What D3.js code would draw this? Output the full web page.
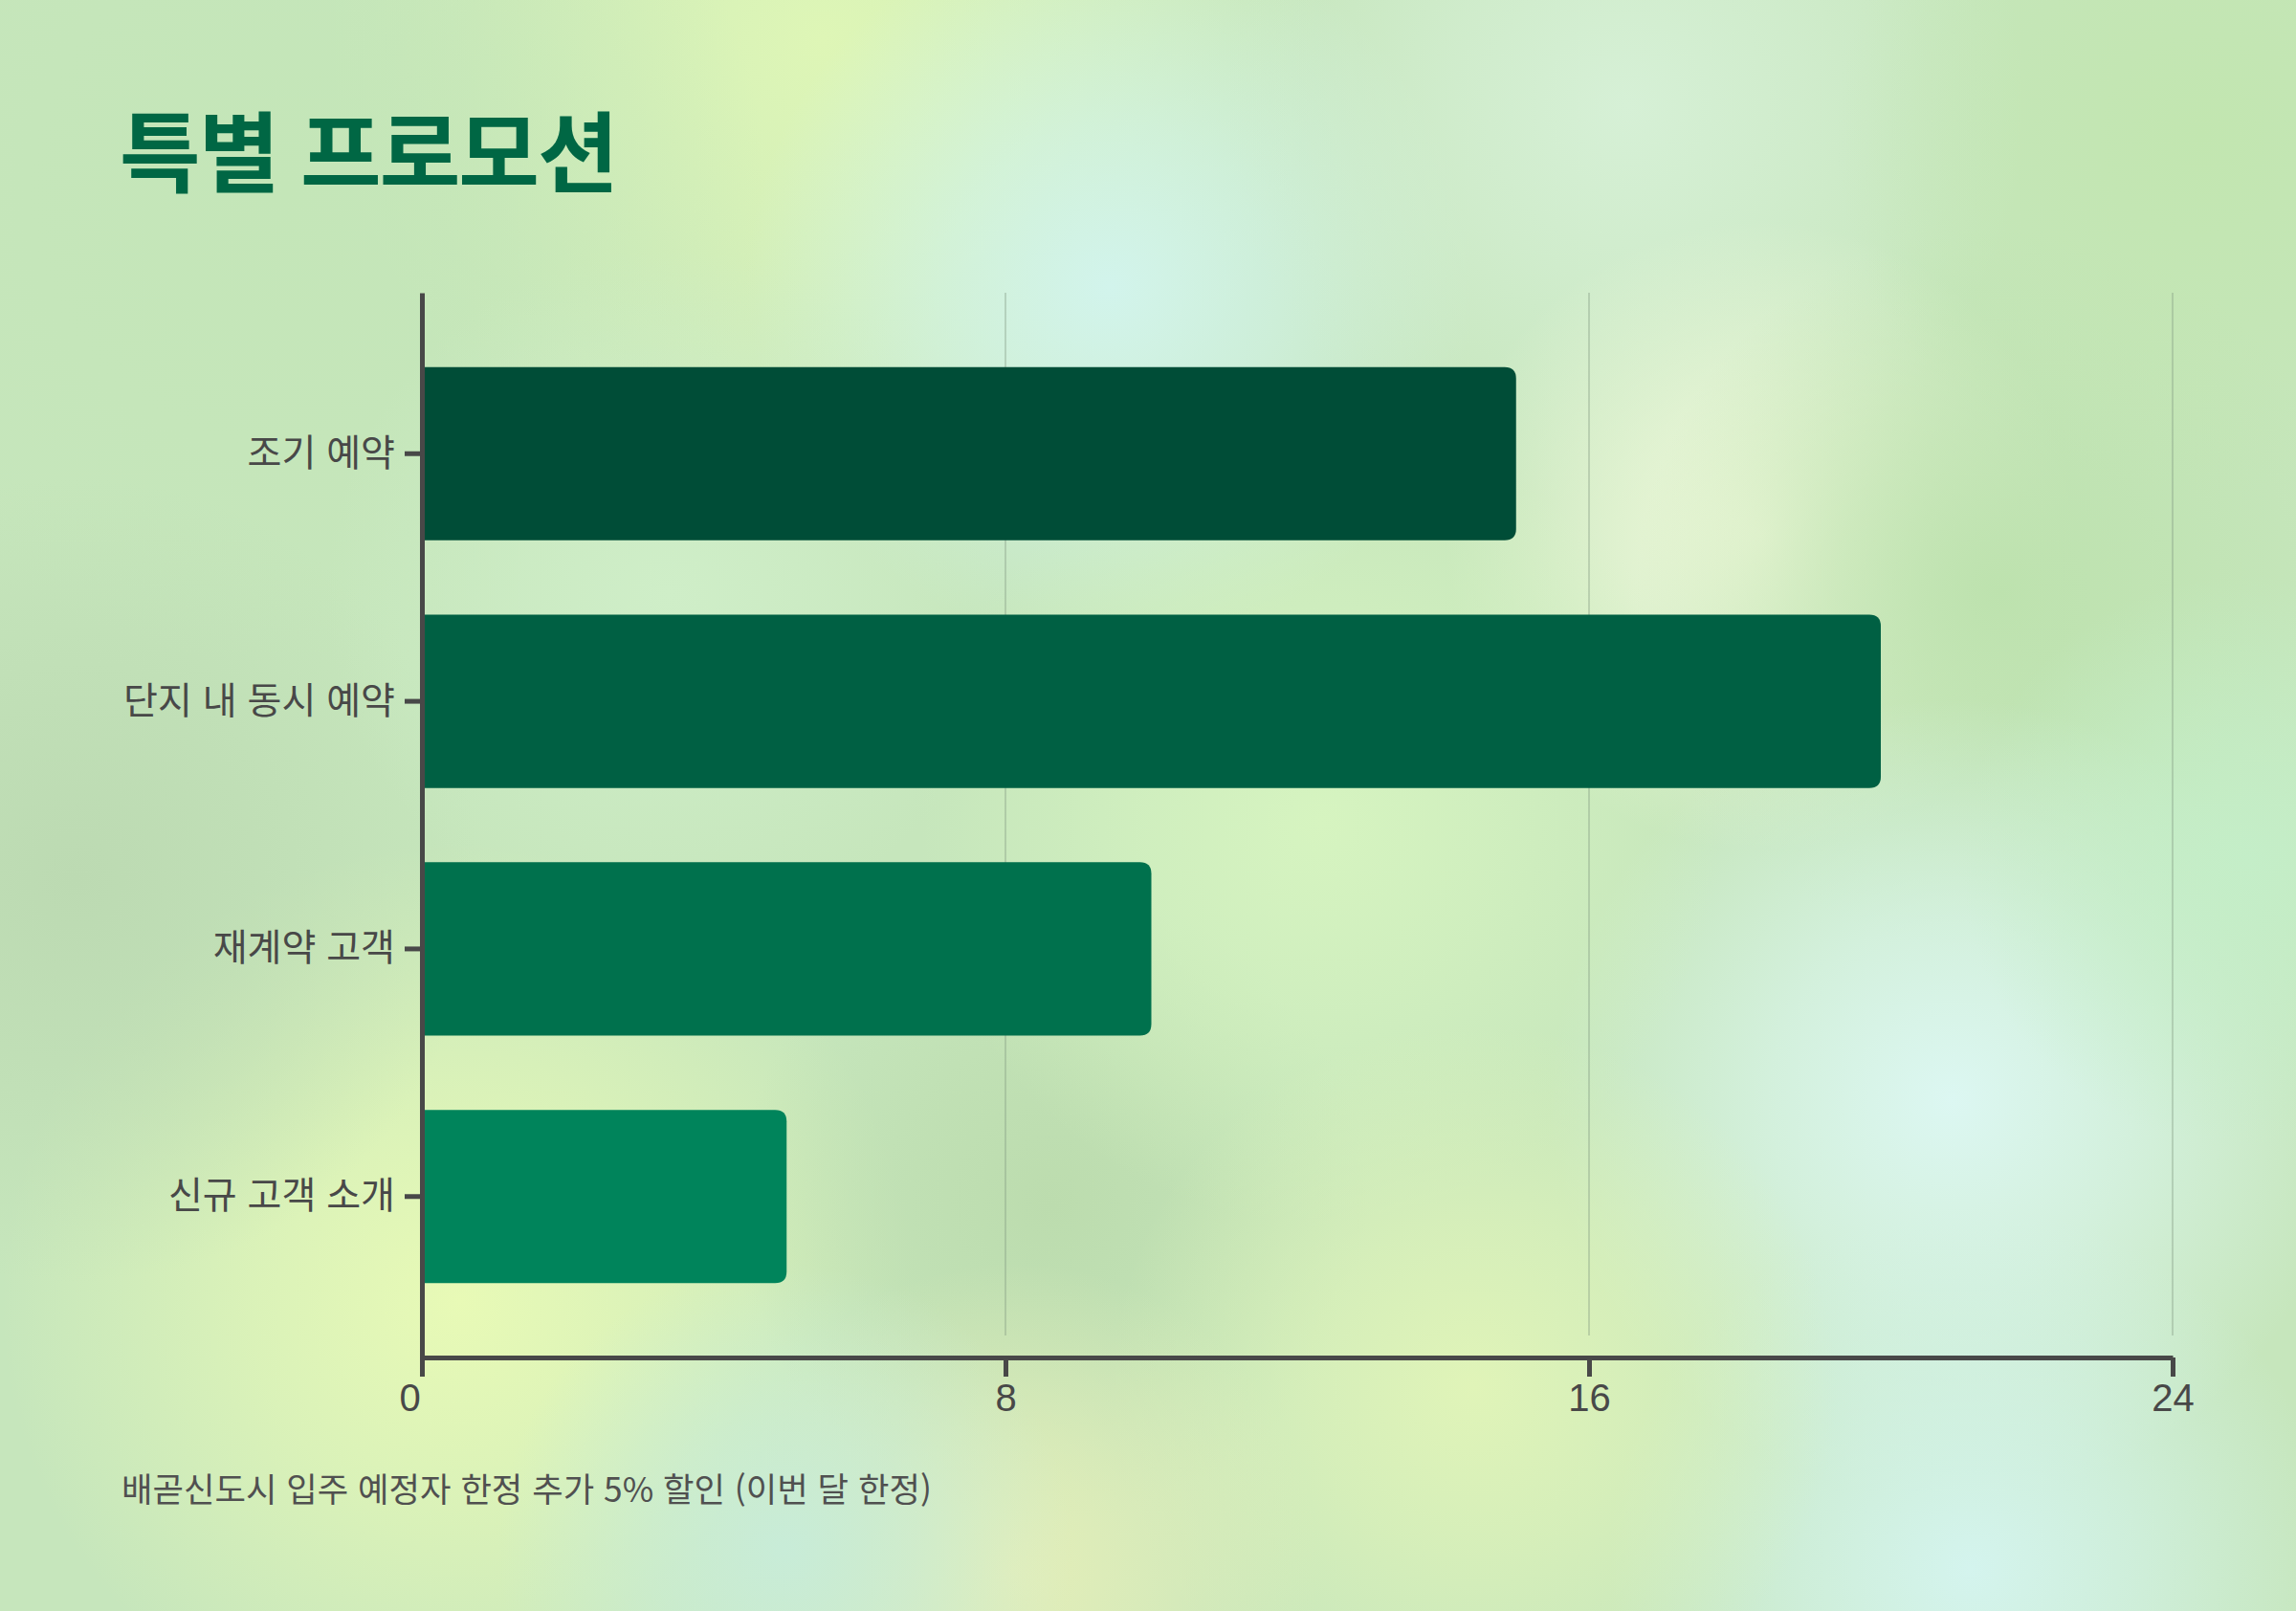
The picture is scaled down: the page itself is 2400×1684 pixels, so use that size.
<!doctype html>
<html lang="ko">
<head>
    <meta charset="utf-8" />
    <title>특별 프로모션</title>
    <style>
        html, body { margin: 0; padding: 0; background: #c6e6bc; }
        svg { display: block; }
        .kr { font-family: "Noto Sans CJK KR", "Noto Sans", sans-serif; }
        .num { font-family: "Liberation Sans", "Noto Sans", sans-serif; }
    </style>
</head>
<body>
    <svg id="chart"></svg>

    <script src="https://cdn.jsdelivr.net/npm/d3@7/dist/d3.min.js"></script>
    <script>
        // 데이터
        const categories = ["조기 예약", "단지 내 동시 예약", "재계약 고객", "신규 고객 소개"];
        const values = [15, 20, 10, 5];
        const barColors = ["#004d37", "#006043", "#00714d", "#00845b"];
        const xTicks = [0, 8, 16, 24];
        const title = "특별 프로모션";
        const footnote = "배곧신도시 입주 예정자 한정 추가 5% 할인 (이번 달 한정)";

        // background blobs: [cx, cy, r, color]
        const blobs = [
            [860, 40, 520, "#def6b6"],
            [1160, 300, 380, "#d2f4ec"],
            [1700, 110, 420, "#d6f0d6"],
            [1840, 560, 330, "#f0f9dc"],
            [2090, 620, 380, "#bde2ae"],
            [2040, 1150, 420, "#dcf7f2"],
            [2060, 1640, 380, "#d4f4ee"],
            [480, 1360, 480, "#e8fab6"],
            [1100, 1260, 330, "#bcdcae"],
            [80, 920, 420, "#bcdab2"],
            [1380, 860, 420, "#d6f4c0"],
            [1540, 1450, 380, "#e0f4b8"],
            [1060, 1640, 320, "#e4eeb8"],
            [820, 1620, 300, "#c8ecd8"],
            [2300, 140, 380, "#c2e6b0"],
            [300, 200, 500, "#c4e6b8"],
            [700, 620, 360, "#cfeec8"],
            [2350, 900, 300, "#c4eec8"]
        ];

        const W = 2400, H = 1684;
        const margin = { top: 306, right: 129, bottom: 265, left: 441 };

        const svg = d3.select("#chart")
            .attr("width", W)
            .attr("height", H)
            .attr("viewBox", [0, 0, W, H]);

        // 배경
        const defs = svg.append("defs");
        defs.selectAll("radialGradient")
            .data(blobs)
            .join("radialGradient")
            .attr("id", (d, i) => `blob-${i}`)
            .call(g => {
                g.append("stop").attr("offset", "0%").attr("stop-color", d => d[3]).attr("stop-opacity", 1);
                g.append("stop").attr("offset", "45%").attr("stop-color", d => d[3]).attr("stop-opacity", 0.6);
                g.append("stop").attr("offset", "100%").attr("stop-color", d => d[3]).attr("stop-opacity", 0);
            });

        svg.append("rect").attr("width", W).attr("height", H).attr("fill", "#c6e6bc");
        svg.append("g")
            .selectAll("circle")
            .data(blobs)
            .join("circle")
            .attr("cx", d => d[0])
            .attr("cy", d => d[1])
            .attr("r", d => d[2])
            .attr("fill", (d, i) => `url(#blob-${i})`);

        // 스케일
        const x = d3.scaleLinear()
            .domain([0, 24])
            .range([margin.left, W - margin.right]);

        const y = d3.scaleBand()
            .domain(categories)
            .range([margin.top, H - margin.bottom])
            .padding(0.3);

        const y0 = H - margin.bottom;

        // 그리드
        svg.append("g")
            .selectAll("line")
            .data(xTicks.filter(t => t > 0))
            .join("line")
            .attr("x1", d => x(d))
            .attr("x2", d => x(d))
            .attr("y1", margin.top)
            .attr("y2", y0 - 23)
            .attr("stroke", "#7f967f")
            .attr("stroke-opacity", 0.35)
            .attr("stroke-width", 2);

        // 막대 (오른쪽 모서리만 둥글게)
        const barPath = (x0, yTop, w, h, r) =>
            `M${x0},${yTop}H${x0 + w - r}Q${x0 + w},${yTop} ${x0 + w},${yTop + r}` +
            `V${yTop + h - r}Q${x0 + w},${yTop + h} ${x0 + w - r},${yTop + h}H${x0}Z`;

        svg.append("g")
            .selectAll("path")
            .data(categories)
            .join("path")
            .attr("fill", (d, i) => barColors[i])
            .attr("d", (d, i) => barPath(x(0), y(d), x(values[i]) - x(0), y.bandwidth(), 12));

        // 축
        const yAxis = svg.append("g")
            .attr("transform", `translate(${margin.left},0)`)
            .call(d3.axisLeft(y).tickSize(18).tickSizeOuter(0).tickPadding(10));

        const xAxis = svg.append("g")
            .attr("transform", `translate(0,${y0})`)
            .call(d3.axisBottom(x).tickValues(xTicks).tickSize(20).tickSizeOuter(0).tickPadding(8));

        [yAxis, xAxis].forEach(a => {
            a.select(".domain").attr("stroke", "#484848").attr("stroke-width", 5);
            a.selectAll(".tick line").attr("stroke", "#484848").attr("stroke-width", 5);
        });

        yAxis.selectAll(".tick text")
            .attr("class", "kr")
            .attr("font-size", 39)
            .attr("fill", "#484848");

        xAxis.selectAll(".tick text")
            .attr("class", "num")
            .attr("font-size", 40)
            .attr("fill", "#484848")
            .attr("dx", d => d === 0 ? -13 : 0);

        // 제목
        svg.append("text")
            .attr("class", "kr")
            .attr("x", 125)
            .attr("y", 194)
            .attr("font-size", 92)
            .attr("font-weight", 700)
            .attr("letter-spacing", -2)
            .attr("fill", "#006744")
            .text(title);

        // 각주
        svg.append("text")
            .attr("class", "kr")
            .attr("x", 127)
            .attr("y", 1570)
            .attr("font-size", 35.3)
            .attr("fill", "#505050")
            .text(footnote);
    </script>
</body>
</html>
